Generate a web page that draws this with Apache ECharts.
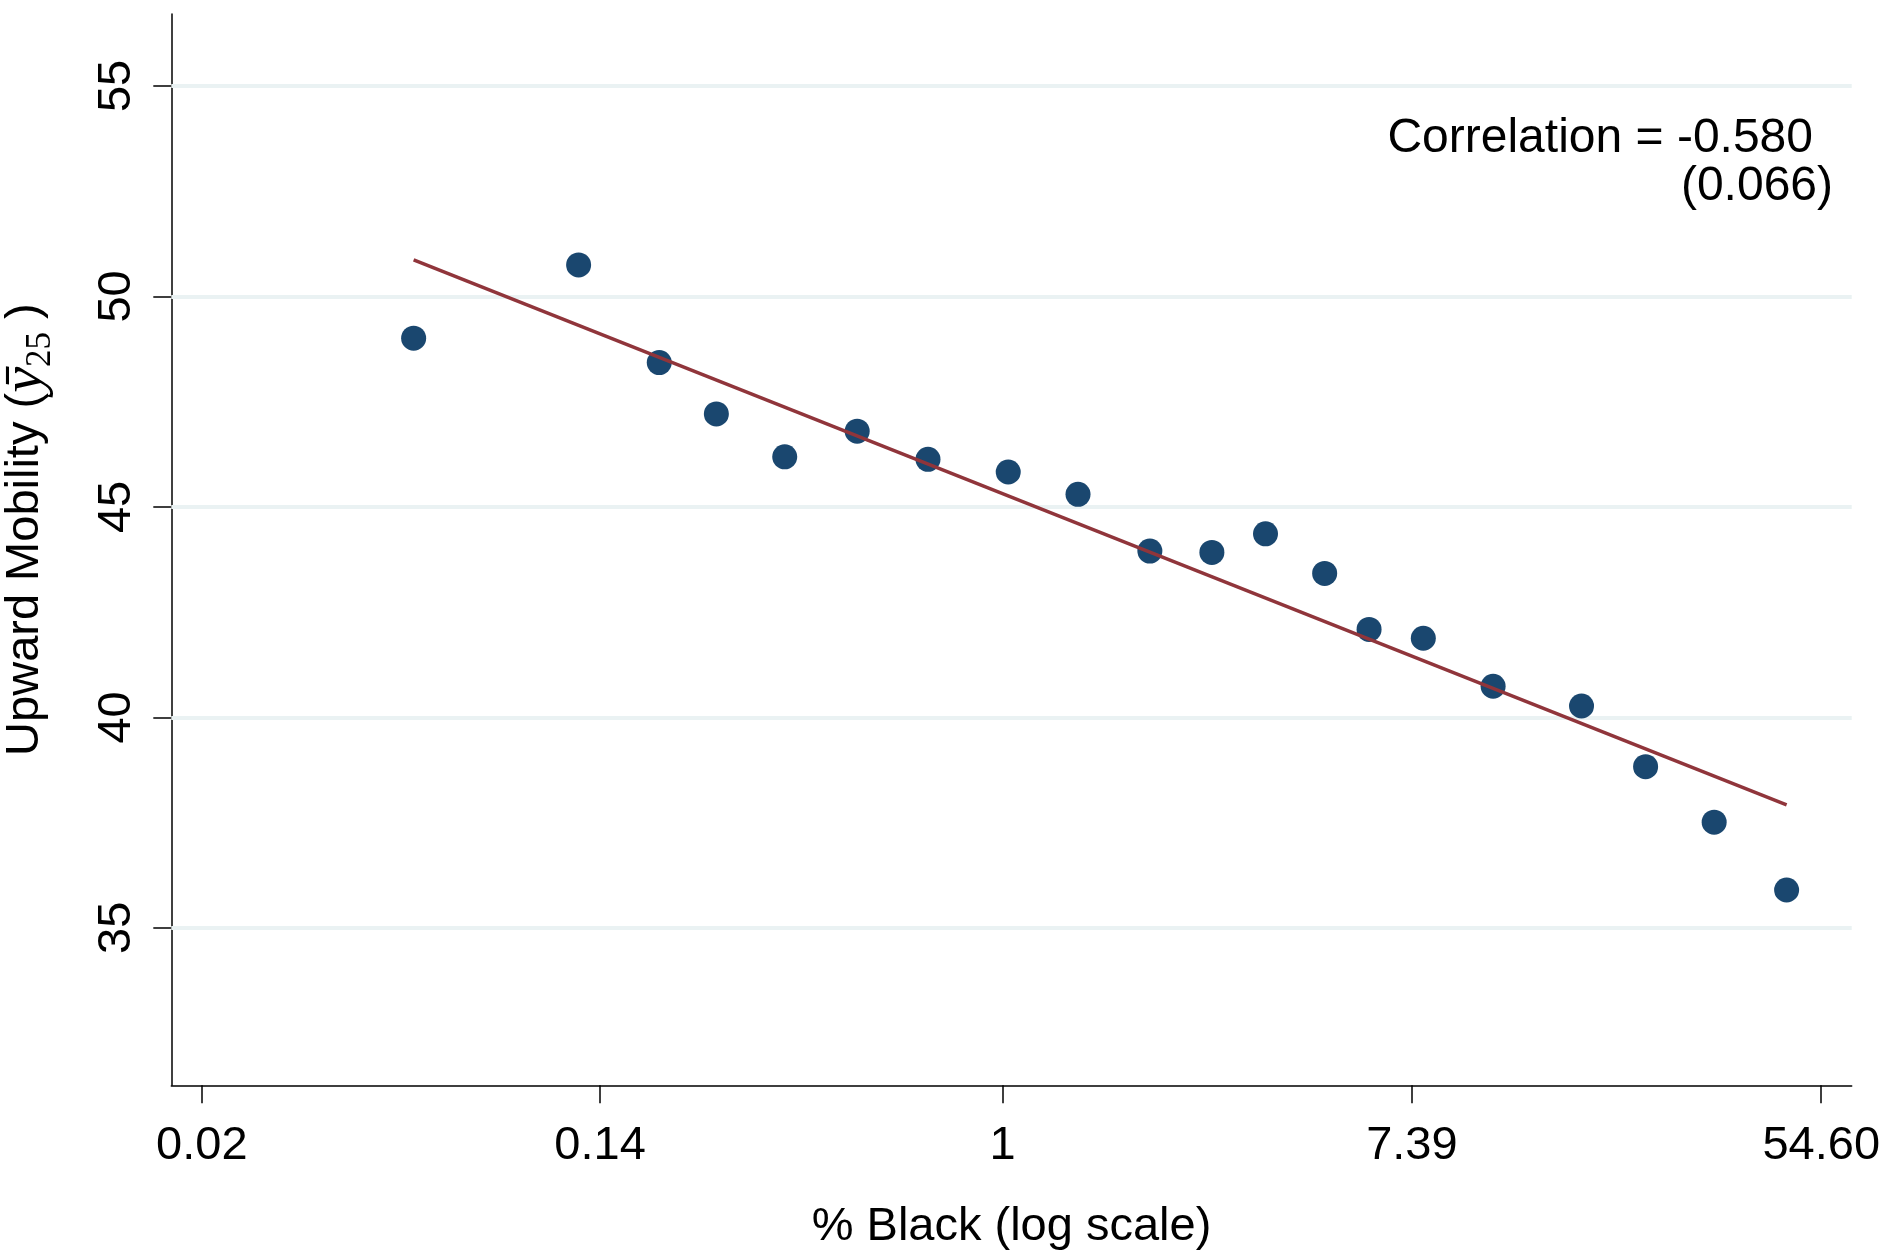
<!DOCTYPE html>
<html><head><meta charset="utf-8">
<script src="https://cdn.jsdelivr.net/npm/echarts@6/dist/echarts.min.js"></script>
<style>html,body{margin:0;padding:0;background:#fff}#c{width:1883px;height:1254px}</style>
</head><body><div id="c"></div>
<script>
// x values are ln(% Black)
const lnBlack = [-2.877, -2.071, -1.677, -1.398, -1.064, -0.710, -0.364, 0.028, 0.369, 0.720,
                 1.023, 1.285, 1.574, 1.791, 2.056, 2.397, 2.829, 3.142, 3.477, 3.831];
const mobility = [49.01, 50.75, 48.43, 47.21, 46.19, 46.80, 46.13, 45.83, 45.30, 43.95,
                  43.92, 44.36, 43.42, 42.09, 41.88, 40.74, 40.27, 38.83, 37.51, 35.90];
// fitted line end points
const fitLnBlack = [-2.877, 3.831];
const fitMobility = [50.87, 37.92];
const xTickLabels = ['0.02', '0.14', '1', '7.39', '54.60'];
const xTickValues = xTickLabels.map(s => Math.log(parseFloat(s)));
const yTickValues = [35, 40, 45, 50, 55];
const corrText = 'Correlation = -0.580';
const seText = '(0.066)';

const FONT = 'Liberation Sans, Arial, sans-serif';
const chart = echarts.init(document.getElementById('c'), null, {renderer: 'canvas'});
chart.setOption({
  animation: false,
  backgroundColor: '#ffffff',
  grid: {left: 171.3, right: 31.3, top: 14, bottom: 168.7, containLabel: false, outerBoundsMode: 'none'},
  xAxis: {
    type: 'value', min: -4.061, max: 4.149,
    name: '% Black (log scale)', nameLocation: 'middle', nameGap: 118,
    nameTextStyle: {fontSize: 47, fontFamily: FONT, color: '#000'},
    axisLine: {onZero: false, lineStyle: {color: '#000', width: 1.5}},
    axisTick: {show: true, customValues: xTickValues, length: 18, lineStyle: {color: '#000', width: 1.5}},
    axisLabel: {customValues: xTickValues, margin: 37, fontSize: 47, fontFamily: FONT, color: '#000',
      formatter: function (v) {
        let best = 0, d = Infinity;
        xTickValues.forEach((t, i) => { if (Math.abs(t - v) < d) { d = Math.abs(t - v); best = i; } });
        return xTickLabels[best];
      }},
    splitLine: {show: false}
  },
  yAxis: {
    type: 'value', min: 31.26, max: 56.71,
    name: 'Upward Mobility ({y|ȳ}{s|25} )', nameLocation: 'middle', nameGap: 113, nameRotate: 90,
    nameTextStyle: {fontSize: 47, fontFamily: FONT, color: '#000', lineHeight: 66, padding: [0, 0, 0, 40],
      rich: {
        y: {fontSize: 58, fontFamily: 'Liberation Serif, serif', fontStyle: 'italic', color: '#000', lineHeight: 66},
        s: {fontSize: 35, fontFamily: 'Liberation Serif, serif', color: '#000', lineHeight: 28, verticalAlign: 'bottom'}
      }},
    axisLine: {onZero: false, lineStyle: {color: '#000', width: 1.5}},
    axisTick: {show: true, customValues: yTickValues, length: 18, lineStyle: {color: '#000', width: 1.5}},
    axisLabel: {customValues: yTickValues, rotate: 90, margin: 31, fontSize: 47, fontFamily: FONT, color: '#000'},
    splitLine: {show: false}
  },
  series: [
    {
      type: 'scatter', data: [], z: 1, silent: true,
      markLine: {
        z: 1, silent: true, symbol: ['none', 'none'], label: {show: false},
        lineStyle: {color: '#eaf2f3', width: 4, type: 'solid'},
        emphasis: {disabled: true},
        data: yTickValues.map(v => ({yAxis: v}))
      }
    },
    {
      type: 'scatter', z: 3, symbol: 'circle', symbolSize: 25,
      itemStyle: {color: '#1a476f', opacity: 1},
      data: lnBlack.map((x, i) => [x, mobility[i]])
    },
    {
      type: 'line', z: 4, symbol: 'none',
      lineStyle: {color: '#90353b', width: 3.5},
      data: fitLnBlack.map((x, i) => [x, fitMobility[i]])
    }
  ],
  graphic: [
    {type: 'text', x: 1813, y: 139, z: 10,
      style: {text: corrText, font: '48px ' + FONT, fill: '#000', align: 'right', verticalAlign: 'middle'}},
    {type: 'text', x: 1833, y: 187, z: 10,
      style: {text: seText, font: '48px ' + FONT, fill: '#000', align: 'right', verticalAlign: 'middle'}}
  ]
});
</script>
</body></html>
